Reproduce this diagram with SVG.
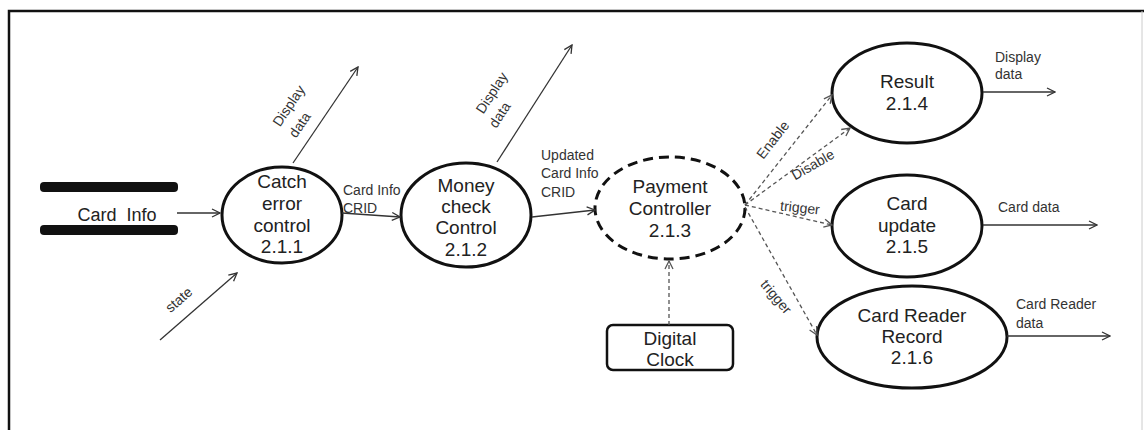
<svg xmlns="http://www.w3.org/2000/svg" width="1144" height="430" viewBox="0 0 1144 430">
<defs>
<style>
.node{fill:#fff;stroke:#111;stroke-width:3}
.dashed{stroke-dasharray:10 6}
.nt{font-family:"Liberation Sans",Arial,sans-serif;font-size:19px;fill:#222;text-anchor:middle}
.lt{font-family:"Liberation Sans",Arial,sans-serif;font-size:14px;fill:#333}
.lc{text-anchor:middle}
.flow{fill:none;stroke:#333;stroke-width:1.3;marker-end:url(#arr)}
.ctrl{fill:none;stroke:#555;stroke-width:1.3;stroke-dasharray:4 3;marker-end:url(#arrg)}
</style>
<marker id="arr" viewBox="0 0 10 10" refX="9" refY="5" markerWidth="10" markerHeight="10" markerUnits="userSpaceOnUse" orient="auto"><path d="M1,1 L9,5 L1,9" fill="none" stroke="#333" stroke-width="1.3"/></marker>
<marker id="arrg" viewBox="0 0 10 10" refX="9" refY="5" markerWidth="10" markerHeight="10" markerUnits="userSpaceOnUse" orient="auto"><path d="M1,1 L9,5 L1,9" fill="none" stroke="#555" stroke-width="1.3"/></marker>
</defs>
<rect width="1144" height="430" fill="#fff"/>
<g id="frame" stroke="#111" stroke-width="2.5" fill="none">
<path d="M9,430 V11 H1144"/>
</g>
<path d="M1142,11 V430" stroke="#ccc" stroke-width="1" fill="none"/>

<g id="store-card-info">
<rect x="40" y="182" width="138" height="10" rx="4" fill="#111"/>
<rect x="40" y="225" width="138" height="10" rx="4" fill="#111"/>
<text x="117" y="221" font-family="'Liberation Sans',Arial,sans-serif" font-size="18" fill="#222" text-anchor="middle" xml:space="preserve">Card  Info</text>
</g>

<g id="node-211">
<ellipse class="node" cx="282" cy="215" rx="60" ry="48"/>
<text class="nt" x="282" y="188">Catch</text>
<text class="nt" x="282" y="210">error</text>
<text class="nt" x="282" y="232">control</text>
<text class="nt" x="282" y="253">2.1.1</text>
</g>

<g id="node-212">
<ellipse class="node" cx="466" cy="215" rx="65" ry="52"/>
<text class="nt" x="466" y="192">Money</text>
<text class="nt" x="466" y="213">check</text>
<text class="nt" x="466" y="234">Control</text>
<text class="nt" x="466" y="256">2.1.2</text>
</g>

<g id="node-213">
<ellipse class="node dashed" cx="670" cy="208" rx="75" ry="51"/>
<text class="nt" x="670" y="193">Payment</text>
<text class="nt" x="670" y="215">Controller</text>
<text class="nt" x="670" y="237">2.1.3</text>
</g>

<g id="node-214">
<ellipse class="node" cx="907" cy="93" rx="75" ry="50"/>
<text class="nt" x="907" y="88">Result</text>
<text class="nt" x="907" y="110">2.1.4</text>
</g>

<g id="node-215">
<ellipse class="node" cx="907" cy="226" rx="75" ry="51"/>
<text class="nt" x="907" y="210">Card</text>
<text class="nt" x="907" y="232">update</text>
<text class="nt" x="907" y="253">2.1.5</text>
</g>

<g id="node-216">
<ellipse class="node" cx="912" cy="337" rx="95" ry="51"/>
<text class="nt" x="912" y="322">Card Reader</text>
<text class="nt" x="912" y="343">Record</text>
<text class="nt" x="912" y="364">2.1.6</text>
</g>

<g id="node-clock">
<rect x="607" y="325" width="126" height="45" rx="6" fill="#fff" stroke="#111" stroke-width="2.5"/>
<text class="nt" x="670" y="345">Digital</text>
<text class="nt" x="670" y="366">Clock</text>
</g>

<g id="connectors">
<line class="flow" x1="177" y1="213" x2="220" y2="213"/>
<line class="flow" x1="160" y1="340" x2="237" y2="273"/>
<line class="flow" x1="293" y1="163" x2="358" y2="67"/>
<line class="flow" x1="342" y1="213" x2="400" y2="217"/>
<line class="flow" x1="497" y1="162" x2="572" y2="45"/>
<line class="flow" x1="532" y1="217" x2="595" y2="210"/>
<line class="ctrl" x1="669" y1="325" x2="669" y2="261"/>
<line class="ctrl" x1="745" y1="205" x2="832" y2="95"/>
<line class="ctrl" x1="745" y1="205" x2="850" y2="128"/>
<line class="ctrl" x1="745" y1="205" x2="832" y2="225"/>
<line class="ctrl" x1="745" y1="207" x2="817" y2="335"/>
<line class="flow" x1="983" y1="92" x2="1055" y2="92"/>
<line class="flow" x1="983" y1="225" x2="1097" y2="225"/>
<line class="flow" x1="1007" y1="336" x2="1110" y2="336"/>

<g id="labels">
<text class="lt lc" transform="translate(289,106) rotate(-56)" y="4.5">Display</text>
<text class="lt lc" transform="translate(300,125) rotate(-56)" y="4.5">data</text>
<text class="lt lc" transform="translate(492,93) rotate(-57)" y="4.5">Display</text>
<text class="lt lc" transform="translate(500,115) rotate(-57)" y="4.5">data</text>
<text class="lt lc" transform="translate(179,300) rotate(-41)" y="4.5">state</text>
<text class="lt" x="343" y="195">Card Info</text>
<text class="lt" x="343" y="213">CRID</text>
<text class="lt" x="541" y="160">Updated</text>
<text class="lt" x="541" y="178">Card Info</text>
<text class="lt" x="541" y="197">CRID</text>
<text class="lt lc" transform="translate(773,140) rotate(-52)" y="4.5">Enable</text>
<text class="lt lc" transform="translate(813,165) rotate(-30)" y="4.5">Disable</text>
<text class="lt lc" transform="translate(800,208) rotate(6)" y="4.5">trigger</text>
<text class="lt lc" transform="translate(776,297) rotate(50)" y="4.5">trigger</text>
<text class="lt" x="995" y="62">Display</text>
<text class="lt" x="995" y="79">data</text>
<text class="lt" x="998" y="212">Card data</text>
<text class="lt" x="1016" y="309">Card Reader</text>
<text class="lt" x="1016" y="328">data</text>
</g>
</g>
</svg>
